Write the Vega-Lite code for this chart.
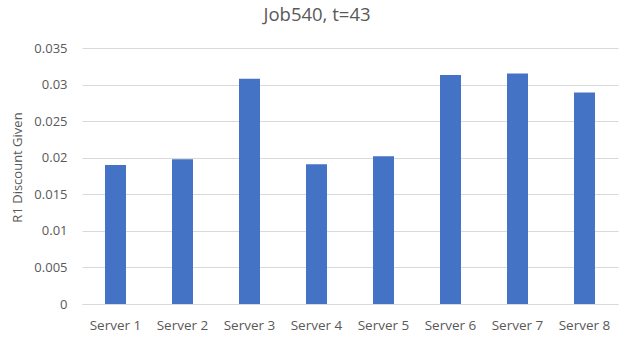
{
  "$schema": "https://vega.github.io/schema/vega-lite/v6.json",
  "width": 536,
  "height": 256,
  "autosize": "none",
  "padding": {"left": 82, "top": 48, "right": 10, "bottom": 35},
  "background": "white",
  "title": {
    "text": "Job540, t=43",
    "fontSize": 18.5,
    "font": "Open Sans",
    "fontWeight": "normal",
    "color": "#595959",
    "anchor": "middle",
    "dx": -33,
    "offset": 18
  },
  "data": {
    "values": [
      {"server": "Server 1", "discount": 0.0190},
      {"server": "Server 2", "discount": 0.0198},
      {"server": "Server 3", "discount": 0.0308},
      {"server": "Server 4", "discount": 0.0191},
      {"server": "Server 5", "discount": 0.0202},
      {"server": "Server 6", "discount": 0.0313},
      {"server": "Server 7", "discount": 0.0315},
      {"server": "Server 8", "discount": 0.0289}
    ]
  },
  "mark": {"type": "bar", "color": "#4472C4"},
  "encoding": {
    "x": {
      "field": "server",
      "type": "nominal",
      "sort": null,
      "scale": {"paddingInner": 0.687, "paddingOuter": 0.3435},
      "axis": {
        "title": null,
        "labelAngle": 0,
        "labelFont": "Open Sans",
        "labelFontSize": 13.5,
        "labelColor": "#595959",
        "labelPadding": 14,
        "ticks": false,
        "domainColor": "#d9d9d9",
        "domainWidth": 1
      }
    },
    "y": {
      "field": "discount",
      "type": "quantitative",
      "scale": {"domain": [0, 0.035], "nice": false},
      "axis": {
        "title": "R1 Discount Given",
        "titleFont": "Open Sans",
        "titleFontSize": 13,
        "titleFontWeight": "normal",
        "titleColor": "#595959",
        "titlePadding": 9,
        "titleY": 119,
        "titleAlign": "center",
        "values": [0, 0.005, 0.01, 0.015, 0.02, 0.025, 0.03, 0.035],
        "format": "~g",
        "labelFont": "Open Sans",
        "labelFontSize": 13,
        "labelColor": "#595959",
        "labelPadding": 15,
        "ticks": false,
        "domain": false,
        "gridColor": "#d9d9d9",
        "gridWidth": 1
      }
    }
  },
  "config": {"view": {"stroke": null}}
}
